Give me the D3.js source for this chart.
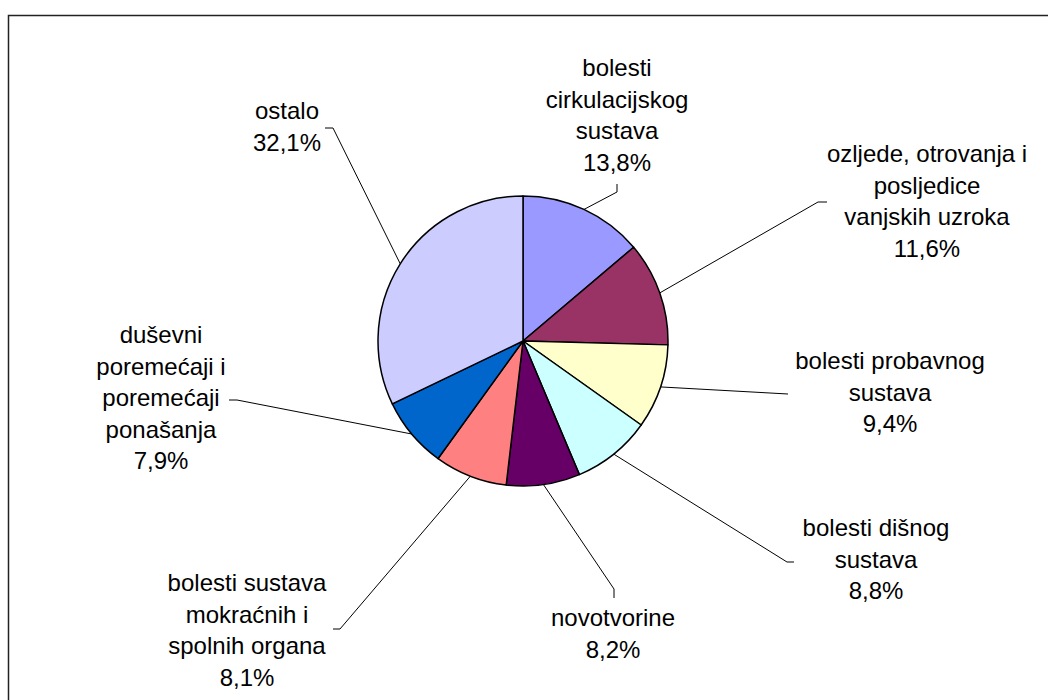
<!DOCTYPE html>
<html>
<head>
<meta charset="utf-8">
<script src="https://cdn.jsdelivr.net/npm/d3@7"></script>
<style>
  body { margin: 0; background: #fff; }
  text { font-family: Arial, "Liberation Sans", sans-serif; }
</style>
</head>
<body>
<div id="chart"></div>
<script>
// categories, clockwise from 12 o'clock
var categories = [
  ["bolesti", "cirkulacijskog", "sustava"],
  ["ozljede, otrovanja i", "posljedice", "vanjskih uzroka"],
  ["bolesti probavnog", "sustava"],
  ["bolesti dišnog", "sustava"],
  ["novotvorine"],
  ["bolesti sustava", "mokraćnih i", "spolnih organa"],
  ["duševni", "poremećaji i", "poremećaji", "ponašanja"],
  ["ostalo"]
]
var shares = [13.8, 11.6, 9.4, 8.8, 8.2, 8.1, 7.9, 32.1]
var colors = ["#9999FF", "#993366", "#FFFFCC", "#CCFFFF", "#660066", "#FF8080", "#0066CC", "#CCCCFF"]

// label placement: text centre x, first line y, leader elbow and end
var labelLayout = [
  { x: 617, y: 68,  elbow: [617, 192], end: [617, 184] },
  { x: 927, y: 154, elbow: [818, 202], end: [827, 202] },
  { x: 890, y: 361, elbow: null,       end: [788, 394] },
  { x: 876, y: 528, elbow: [787, 562], end: [794, 562] },
  { x: 613, y: 618, elbow: [614, 589], end: [614, 598] },
  { x: 247, y: 583, elbow: [340, 629], end: [333, 629] },
  { x: 161, y: 335, elbow: [237, 400], end: [229, 400] },
  { x: 287, y: 111, elbow: [333, 128], end: [325, 128] }
]

var width = 1048, height = 700
var cx = 523, cy = 341, radius = 145
var lineHeight = 31.5

var svg = d3.select("#chart").append("svg")
  .attr("width", width)
  .attr("height", height)

// chart area frame (runs off the right and bottom edges)
svg.append("rect")
  .attr("x", 8.5).attr("y", 15.5)
  .attr("width", 1100).attr("height", 800)
  .attr("fill", "none")
  .attr("stroke", "#222")
  .attr("stroke-width", 1.5)

var pie = d3.pie().sort(null).value(function(d) { return d })
var arcs = pie(shares)

var arc = d3.arc().innerRadius(0).outerRadius(radius)
var edgeArc = d3.arc().innerRadius(radius).outerRadius(radius)

var g = svg.append("g").attr("transform", "translate(" + cx + "," + cy + ")")

g.selectAll("path.slice").data(arcs)
  .enter().append("path")
  .attr("class", "slice")
  .attr("d", arc)
  .attr("fill", function(d, i) { return colors[i] })
  .attr("stroke", "#000")
  .attr("stroke-width", 1.5)
  .attr("stroke-linejoin", "round")

// leader lines
var leader = d3.line()
svg.selectAll("path.leader").data(arcs)
  .enter().append("path")
  .attr("class", "leader")
  .attr("fill", "none")
  .attr("stroke", "#000")
  .attr("stroke-width", 1)
  .attr("d", function(d, i) {
    var c = edgeArc.centroid(d)
    var pts = [[cx + c[0], cy + c[1]]]
    var lay = labelLayout[i]
    if (lay.elbow) pts.push(lay.elbow)
    pts.push(lay.end)
    return leader(pts)
  })

// labels
var fmt = function(v) { return v.toFixed(1).replace(".", ",") + "%" }

var labels = svg.selectAll("text.label").data(arcs)
  .enter().append("text")
  .attr("class", "label")
  .attr("text-anchor", "middle")
  .attr("font-size", "24px")
  .attr("fill", "#000")

labels.each(function(d, i) {
  var lines = categories[i].concat([fmt(shares[i])])
  var lay = labelLayout[i]
  d3.select(this).selectAll("tspan").data(lines)
    .enter().append("tspan")
    .attr("x", lay.x)
    .attr("y", function(t, j) { return lay.y + j * lineHeight })
    .attr("dy", "0.35em")
    .text(function(t) { return t })
})
</script>
</body>
</html>
